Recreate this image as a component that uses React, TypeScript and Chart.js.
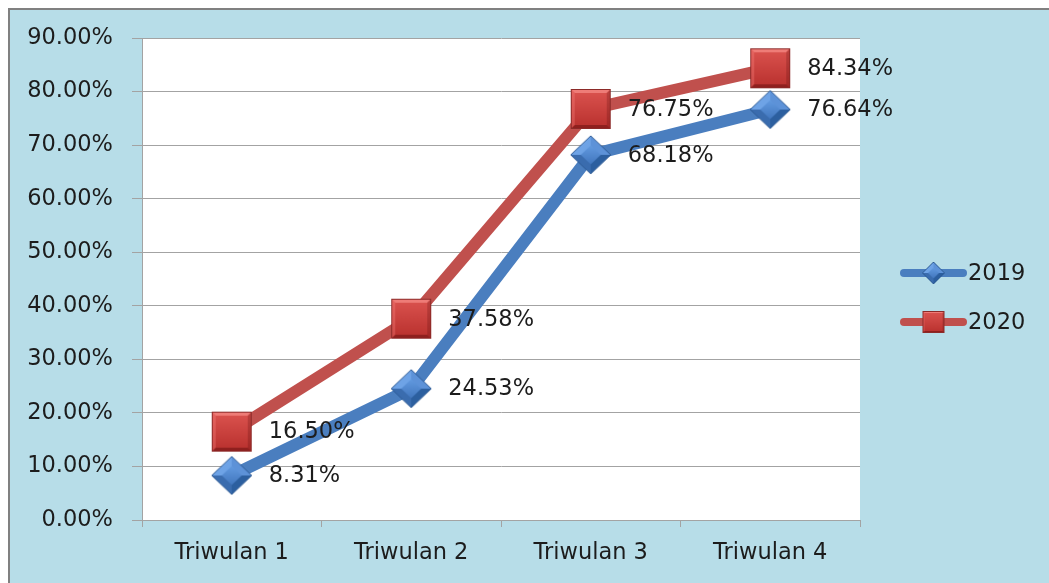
import React, { useEffect, useRef } from "react";
import { Chart, registerables } from "chart.js";

Chart.register(...registerables);

const categories = ["Triwulan 1", "Triwulan 2", "Triwulan 3", "Triwulan 4"];
const seriesNames = ["2019", "2020"];
const values2019 = [8.31, 24.53, 68.18, 76.64];
const values2020 = [16.5, 37.58, 76.75, 84.34];
const yTicks = [0, 10, 20, 30, 40, 50, 60, 70, 80, 90];

const BLUE = "#4a7ebf";
const RED = "#c0504d";
const FONT = "'DejaVu Sans', sans-serif";
const FSIZE = 22.5;
const TEXT = "#1c1c1c";
const GRID = "#a3a3a3";

function makeDiamond(w: number, h: number): HTMLCanvasElement {
  const c = document.createElement("canvas");
  c.width = w + 4;
  c.height = h + 4;
  const ctx = c.getContext("2d")!;
  const cx = c.width / 2;
  const cy = c.height / 2;
  const rx = w / 2;
  const ry = h / 2;
  const path = (sx: number, sy: number) => {
    ctx.beginPath();
    ctx.moveTo(cx - rx * sx, cy);
    ctx.lineTo(cx, cy - ry * sy);
    ctx.lineTo(cx + rx * sx, cy);
    ctx.lineTo(cx, cy + ry * sy);
    ctx.closePath();
  };
  const facet = (ax: number, ay: number, bx: number, by: number, col: string) => {
    ctx.beginPath();
    ctx.moveTo(cx, cy);
    ctx.lineTo(ax, ay);
    ctx.lineTo(bx, by);
    ctx.closePath();
    ctx.fillStyle = col;
    ctx.fill();
  };
  facet(cx - rx, cy, cx, cy - ry, "#6ea3e6");
  facet(cx, cy - ry, cx + rx, cy, "#5d92d8");
  facet(cx + rx, cy, cx, cy + ry, "#2c5f9f");
  facet(cx, cy + ry, cx - rx, cy, "#3a6cae");
  path(0.5, 0.5);
  const g = ctx.createLinearGradient(0, cy - ry / 2, 0, cy + ry / 2);
  g.addColorStop(0, "#629ae0");
  g.addColorStop(1, "#4277be");
  ctx.fillStyle = g;
  ctx.fill();
  path(1, 1);
  ctx.strokeStyle = "#2d5a94";
  ctx.lineWidth = 1;
  ctx.stroke();
  return c;
}

function makeSquare(s: number): HTMLCanvasElement {
  const c = document.createElement("canvas");
  c.width = s + 4;
  c.height = s + 4;
  const ctx = c.getContext("2d")!;
  const x0 = 2;
  const y0 = 2;
  const b = Math.max(2, Math.round(s * 0.1));
  const g = ctx.createLinearGradient(0, y0, 0, y0 + s);
  g.addColorStop(0, "#dc5450");
  g.addColorStop(1, "#b8302d");
  ctx.fillStyle = g;
  ctx.fillRect(x0, y0, s, s);
  ctx.fillStyle = "rgba(255,160,155,0.55)";
  ctx.beginPath();
  ctx.moveTo(x0, y0);
  ctx.lineTo(x0 + s, y0);
  ctx.lineTo(x0 + s - b, y0 + b);
  ctx.lineTo(x0 + b, y0 + b);
  ctx.closePath();
  ctx.fill();
  ctx.fillStyle = "rgba(255,140,135,0.3)";
  ctx.beginPath();
  ctx.moveTo(x0, y0);
  ctx.lineTo(x0 + b, y0 + b);
  ctx.lineTo(x0 + b, y0 + s - b);
  ctx.lineTo(x0, y0 + s);
  ctx.closePath();
  ctx.fill();
  ctx.fillStyle = "rgba(90,10,10,0.45)";
  ctx.beginPath();
  ctx.moveTo(x0, y0 + s);
  ctx.lineTo(x0 + b, y0 + s - b);
  ctx.lineTo(x0 + s - b, y0 + s - b);
  ctx.lineTo(x0 + s, y0 + s);
  ctx.closePath();
  ctx.fill();
  ctx.fillStyle = "rgba(90,10,10,0.25)";
  ctx.beginPath();
  ctx.moveTo(x0 + s, y0);
  ctx.lineTo(x0 + s, y0 + s);
  ctx.lineTo(x0 + s - b, y0 + s - b);
  ctx.lineTo(x0 + s - b, y0 + b);
  ctx.closePath();
  ctx.fill();
  ctx.strokeStyle = "#8c2a28";
  ctx.lineWidth = 1;
  ctx.strokeRect(x0 + 0.5, y0 + 0.5, s - 1, s - 1);
  return c;
}

export default function App() {
  const ref = useRef<HTMLCanvasElement | null>(null);

  useEffect(() => {
    if (!ref.current) return;
    const diamond = makeDiamond(40, 38);
    const square = makeSquare(40);
    const diamondSmall = makeDiamond(22, 22);
    const squareSmall = makeSquare(22);
    const legendIcons = [diamondSmall, squareSmall];
    const colors = [BLUE, RED];

    const bgPlugin = {
      id: "plotBg",
      beforeDraw(chart: any) {
        const { ctx, chartArea } = chart;
        ctx.save();
        ctx.fillStyle = "#ffffff";
        ctx.fillRect(chartArea.left, chartArea.top, chartArea.right - chartArea.left, chartArea.bottom - chartArea.top);
        ctx.restore();
      },
    };

    const labelPlugin = {
      id: "pointLabels",
      afterDatasetsDraw(chart: any) {
        const ctx = chart.ctx;
        ctx.save();
        ctx.font = `${FSIZE}px ${FONT}`;
        ctx.fillStyle = TEXT;
        ctx.textAlign = "left";
        ctx.textBaseline = "middle";
        chart.data.datasets.forEach((ds: any, i: number) => {
          const meta = chart.getDatasetMeta(i);
          meta.data.forEach((pt: any, j: number) => {
            const v = ds.data[j] as number;
            ctx.fillText(v.toFixed(2) + "%", pt.x + 37, pt.y + 1);
          });
        });
        ctx.restore();
      },
    };

    const legendPlugin = {
      id: "customLegend",
      afterDraw(chart: any) {
        const ctx = chart.ctx;
        ctx.save();
        const ys = [263, 312];
        seriesNames.forEach((name, i) => {
          const y = ys[i];
          ctx.strokeStyle = colors[i];
          ctx.lineWidth = 8;
          ctx.lineCap = "round";
          ctx.beginPath();
          ctx.moveTo(894, y);
          ctx.lineTo(953, y);
          ctx.stroke();
          const ic = legendIcons[i];
          ctx.drawImage(ic, 923.5 - ic.width / 2, y - ic.height / 2);
          ctx.font = `${FSIZE}px ${FONT}`;
          ctx.fillStyle = TEXT;
          ctx.textAlign = "left";
          ctx.textBaseline = "middle";
          ctx.fillText(name, 958, y + 1);
        });
        ctx.restore();
      },
    };

    const chart = new Chart(ref.current, {
      type: "line",
      data: {
        labels: categories,
        datasets: [
          {
            label: seriesNames[0],
            data: values2019,
            borderColor: BLUE,
            backgroundColor: BLUE,
            borderWidth: 12,
            pointStyle: diamond as any,
            pointRadius: 20,
            pointBorderWidth: 0,
            tension: 0,
            order: 1,
          },
          {
            label: seriesNames[1],
            data: values2020,
            borderColor: RED,
            backgroundColor: RED,
            borderWidth: 12,
            pointStyle: square as any,
            pointRadius: 20,
            pointBorderWidth: 0,
            tension: 0,
            order: 0,
          },
        ],
      },
      options: {
        animation: false,
        responsive: false,
        maintainAspectRatio: false,
        layout: { autoPadding: false, padding: { left: 0, top: 28, right: 189, bottom: 0 } },
        plugins: {
          legend: { display: false },
          tooltip: { enabled: false },
        },
        scales: {
          x: {
            offset: true,
            grid: {
              offset: true,
              drawOnChartArea: false,
              drawTicks: true,
              tickLength: 7,
              color: GRID,
            },
            border: { color: GRID },
            ticks: {
              font: { family: FONT, size: FSIZE },
              color: TEXT,
              padding: 13,
              maxRotation: 0,
            },
            afterFit(scale: any) {
              scale.height = 63;
            },
          },
          y: {
            min: yTicks[0],
            max: yTicks[yTicks.length - 1],
            afterBuildTicks(scale: any) {
              scale.ticks = yTicks.map((v) => ({ value: v }));
            },
            grid: {
              color: GRID,
              drawTicks: true,
              tickLength: 10,
            },
            border: { color: GRID },
            ticks: {
              font: { family: FONT, size: FSIZE, lineHeight: 0.5 },
              color: TEXT,
              padding: 19,
              callback: (v: any) => Number(v).toFixed(2) + "%",
            },
            afterFit(scale: any) {
              scale.width = 132;
            },
          },
        },
      },
      plugins: [bgPlugin, labelPlugin, legendPlugin],
    });
    return () => chart.destroy();
  }, []);

  return (
    <div
      style={{
        position: "absolute",
        left: 8,
        top: 8,
        width: 1041,
        height: 575,
        boxSizing: "border-box",
        borderLeft: "2px solid #808080",
        borderTop: "2px solid #808080",
        background: "#b7dde8",
        overflow: "hidden",
      }}
    >
      <canvas ref={ref} width={1039} height={573} style={{ display: "block" }} />
    </div>
  );
}
